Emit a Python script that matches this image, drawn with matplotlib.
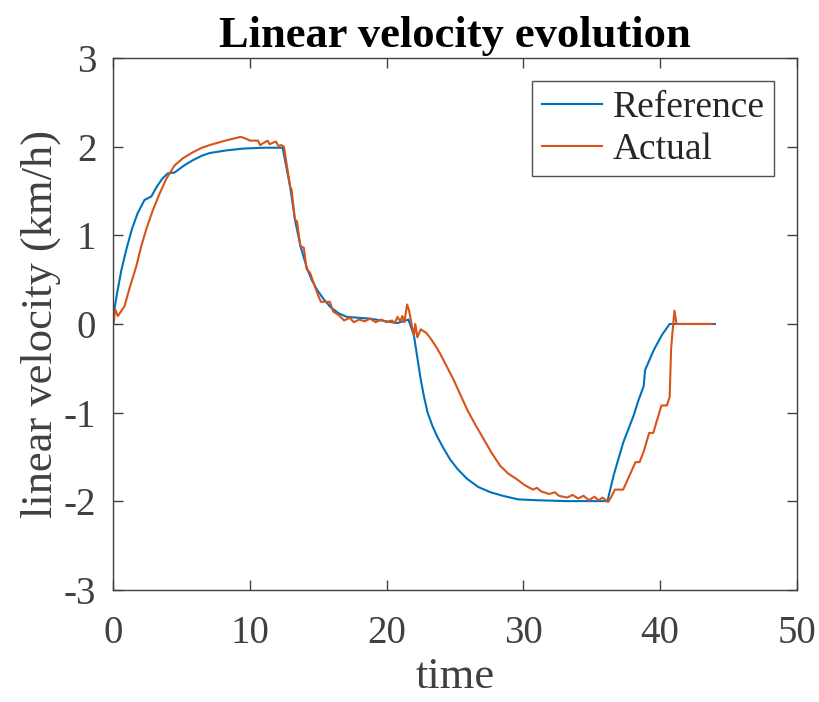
import matplotlib
matplotlib.use("Agg")
import matplotlib.pyplot as plt

# reference speed profile (time, km/h)
ref_t = [0.0, 0.06, 0.3, 0.6, 0.97, 1.4, 1.8, 2.3, 2.8, 3.2, 3.6, 4.0, 4.5, 5.2, 5.85,
         6.5, 7.07, 8.3, 9.5, 11.0, 12.3, 12.4, 12.7, 12.95, 13.3, 13.7, 14.2, 14.55,
         14.9, 15.4, 15.9, 16.5, 17.1, 18.8, 20.8, 21.6, 22.0, 22.25, 22.5, 22.75, 23.0,
         23.35, 23.7, 24.15, 24.65, 25.2, 25.9, 26.7, 27.6, 28.5, 29.6, 31.0, 33.2, 36.15,
         36.6, 37.3, 38.05, 38.4, 38.8, 38.9, 39.55, 40.15, 40.7, 44.0]
ref_v = [0.0, 0.13, 0.35, 0.6, 0.84, 1.08, 1.25, 1.40, 1.44, 1.55, 1.64, 1.70, 1.71, 1.79, 1.85,
         1.90, 1.93, 1.96, 1.98, 1.99, 1.99, 1.99, 1.75, 1.55, 1.18, 0.88, 0.62, 0.49,
         0.39, 0.28, 0.19, 0.12, 0.08, 0.06, 0.01, 0.05, -0.13, -0.38, -0.63, -0.83, -1.0,
         -1.15, -1.27, -1.40, -1.53, -1.64, -1.75, -1.84, -1.90, -1.94, -1.98, -1.99, -2.0, -2.0,
         -1.71, -1.34, -1.04, -0.87, -0.70, -0.52, -0.29, -0.12, 0.0, 0.0]

# measured speed (time, km/h)
act_t = [0.0, 0.06, 0.15, 0.35, 0.84, 1.2, 1.7, 2.05, 2.43, 2.9, 3.4, 3.9, 4.5, 5.1, 5.85,
         6.5, 7.07, 8.2, 9.27,
         9.4, 9.9, 10.0, 10.6, 10.75, 11.3, 11.45, 11.9, 12.1, 12.3, 12.4, 12.5,
         12.95, 13.05, 13.3, 13.45, 13.7, 13.95, 14.15, 14.4, 15.0, 15.2, 15.85,
         16.1, 16.5, 16.9, 17.3, 17.6, 18.0, 18.4, 18.8, 19.2, 19.6, 20.0, 20.4, 20.6,
         20.8, 21.0, 21.15, 21.3, 21.5, 21.65, 21.85, 22.0, 22.1, 22.25, 22.5, 22.9,
         23.2, 23.55, 23.9, 24.4, 24.9, 25.4, 25.9, 26.5, 27.1, 27.7, 28.3, 28.9, 29.5,
         30.1, 30.7, 31.0, 31.3, 31.9, 32.3, 32.6,
         33.2, 33.6, 34.0, 34.4, 34.8, 35.2, 35.5, 35.8, 36.2, 36.4, 36.7, 37.3, 38.2,
         38.5, 38.8, 39.2, 39.5, 39.75, 40.1, 40.5, 40.7, 40.8, 40.9, 41.05, 41.2, 43.8]
act_v = [0.0, 0.02, 0.17, 0.09, 0.2, 0.4, 0.65, 0.87, 1.07, 1.28, 1.47, 1.64, 1.79, 1.87, 1.94,
         1.99, 2.02, 2.07, 2.11,
         2.11, 2.08, 2.07, 2.07, 2.02, 2.07, 2.03, 2.06, 2.01, 2.02, 2.01, 2.0,
         1.55, 1.52, 1.18, 1.16, 0.88, 0.86, 0.62, 0.58, 0.32, 0.25, 0.25,
         0.14, 0.10, 0.04, 0.07, 0.02, 0.05, 0.03, 0.06, 0.02, 0.05, 0.02, 0.04, 0.01,
         0.08, 0.03, 0.09, 0.02, 0.22, 0.15, -0.02, -0.13, 0.0, -0.15, -0.06, -0.1,
         -0.16, -0.24, -0.33, -0.48, -0.63, -0.80, -0.97, -1.14, -1.30, -1.46, -1.60, -1.69, -1.75,
         -1.82, -1.87, -1.85, -1.89, -1.92, -1.90, -1.94,
         -1.96, -1.93, -1.97, -1.94, -1.99, -1.95, -1.99, -1.96, -2.01, -1.96, -1.87, -1.87, -1.56,
         -1.56, -1.44, -1.23, -1.23, -1.10, -0.92, -0.92, -0.82, -0.29, -0.1, 0.15, 0.0, 0.0]

plt.rcParams["font.family"] = ["Liberation Serif", "DejaVu Serif"]
plt.rcParams["axes.unicode_minus"] = False
TXT = "#404040"

fig = plt.figure(figsize=(8.19, 7.02), dpi=100)
ax = fig.add_axes([0.138, 0.160, 0.835, 0.757])
ax.plot(ref_t, ref_v, color="#0072BD", lw=1.5, label="Reference")
ax.plot(act_t, act_v, color="#D95319", lw=1.5, label="Actual")

ax.set_xlim(0, 50)
ax.set_ylim(-3, 3)
ax.set_xticks([0, 10, 20, 30, 40, 50])
ax.set_yticks([-3, -2, -1, 0, 1, 2, 3])
ax.tick_params(direction="in", top=True, right=True, length=7, width=1,
               labelsize=28, colors=TXT)
ax.tick_params(axis="x", pad=18)
ax.tick_params(axis="y", pad=12)
for s in ax.spines.values():
    s.set_color(TXT)
    s.set_linewidth(1)

ax.set_title("Linear velocity evolution", fontsize=32, fontweight="bold", pad=8)
ax.set_xlabel("time", fontsize=32, color=TXT, labelpad=4)
ax.set_ylabel("linear velocity (km/h)", fontsize=32, color=TXT, labelpad=2)

leg = ax.legend(loc="upper right", fontsize=27, frameon=True, fancybox=False,
                edgecolor="#262626", handlelength=1.6, borderpad=0.25,
                labelspacing=0.2, handletextpad=0.3, borderaxespad=0.6)
leg.get_frame().set_linewidth(1)
for t in leg.get_texts():
    t.set_color("#262626")

fig.savefig("out.png", dpi=100)
